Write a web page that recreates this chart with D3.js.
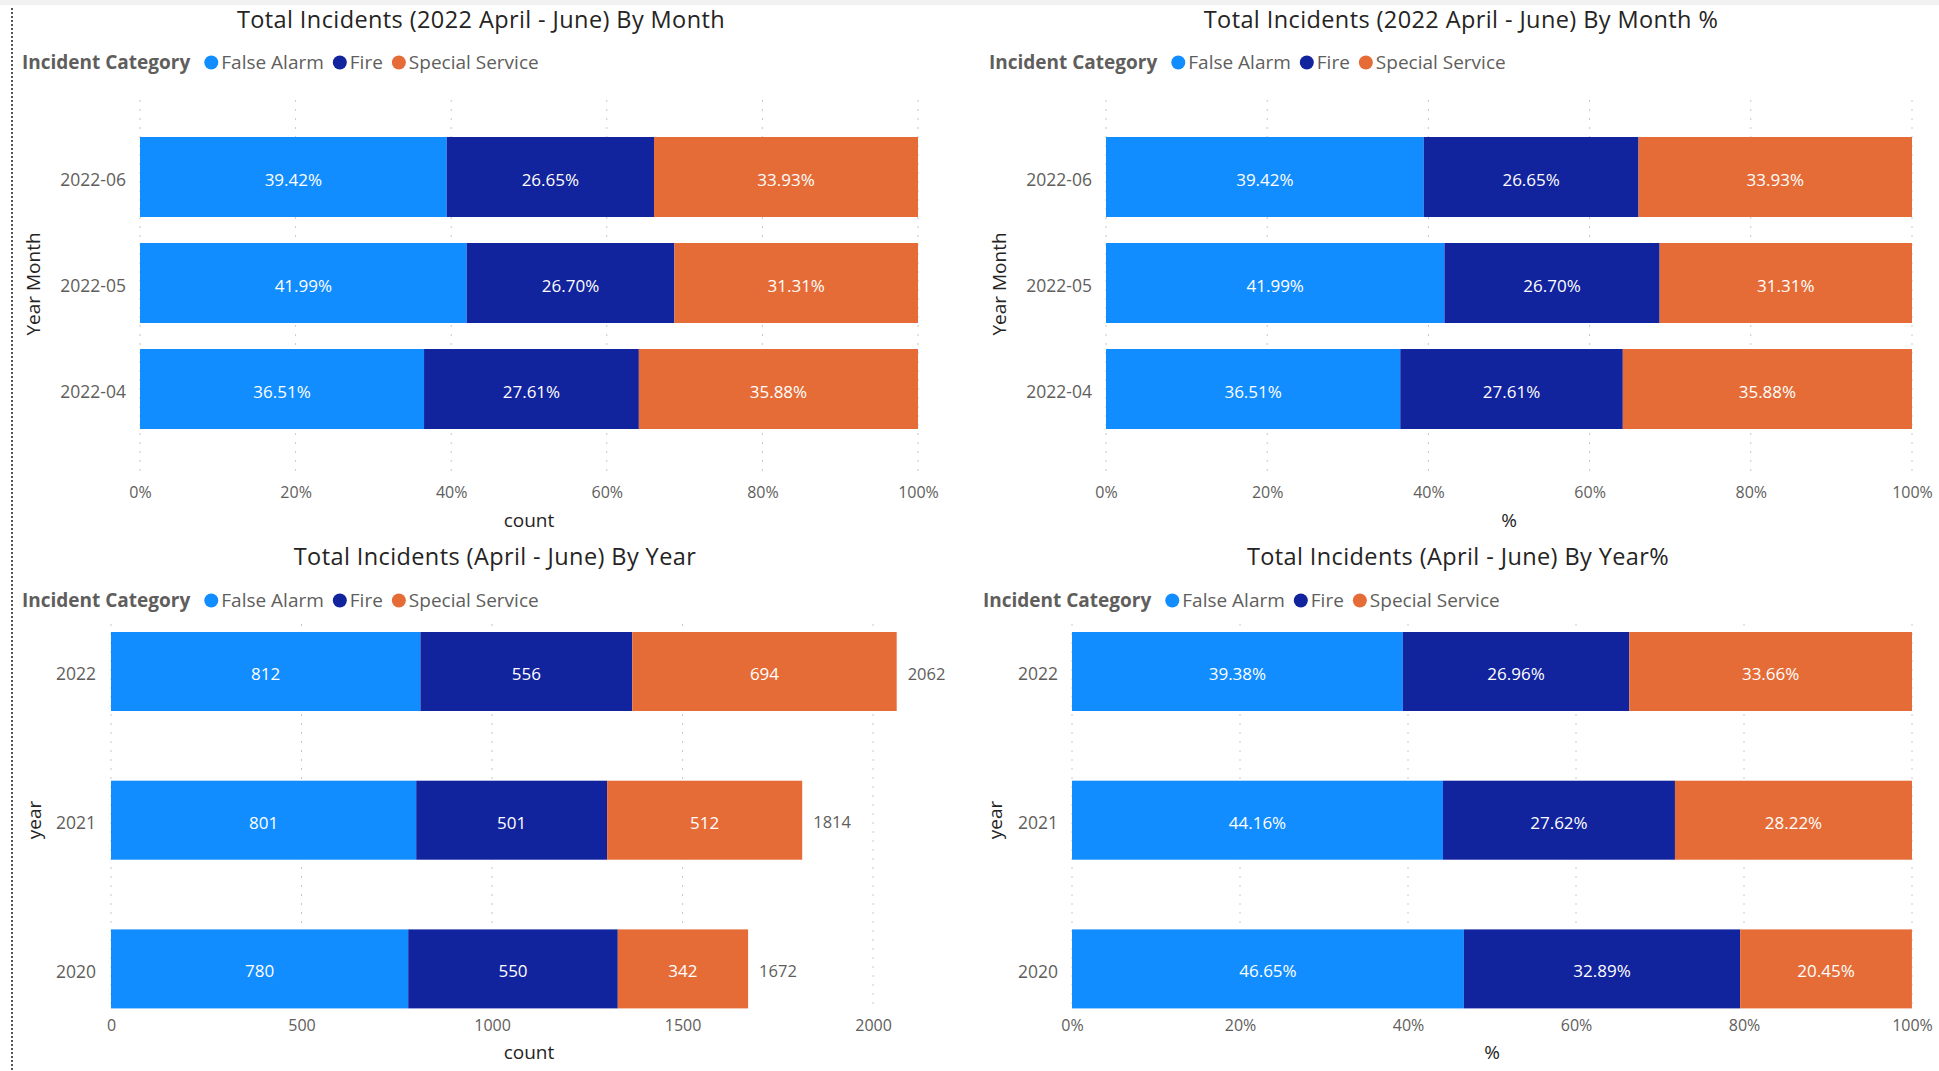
<!DOCTYPE html>
<html><head><meta charset="utf-8">
<script src="https://cdn.jsdelivr.net/npm/d3@7"></script>
<style>
html,body{margin:0;padding:0;background:#fff;}
svg{display:block;}
text{font-family:"Open Sans","Noto Sans",sans-serif;}
</style></head><body>
<svg id="chart" width="1939" height="1071"></svg>
<script>
// ---------- data ----------
const categories = ['False Alarm', 'Fire', 'Special Service'];
const colors = ['#118DFF', '#12239E', '#E66C37'];

const monthCats = ['2022-06', '2022-05', '2022-04'];
const monthFalseAlarm = [39.42, 41.99, 36.51];
const monthFire = [26.65, 26.70, 27.61];
const monthSpecial = [33.93, 31.31, 35.88];

const yearCats = ['2022', '2021', '2020'];
const yearFalseAlarm = [812, 801, 780];
const yearFire = [556, 501, 550];
const yearSpecial = [694, 512, 342];
const yearTotals = [2062, 1814, 1672];

const yearPctFalseAlarm = [39.38, 44.16, 46.65];
const yearPctFire = [26.96, 27.62, 32.89];
const yearPctSpecial = [33.66, 28.22, 20.45];

const pctTicks = [0, 20, 40, 60, 80, 100];
const pctTickLabels = ['0%', '20%', '40%', '60%', '80%', '100%'];
const countTicks = [0, 500, 1000, 1500, 2000];
const countTickLabels = ['0', '500', '1000', '1500', '2000'];

// ---------- drawing ----------
const svg = d3.select('#chart');
const TITLE_FONT = '"Open Sans", Roboto, sans-serif';

// top shadow band and left dotted border
svg.append('rect').attr('x', 0).attr('y', 0).attr('width', 1939).attr('height', 5).attr('fill', '#f1f1f1');
svg.append('line').attr('x1', 12).attr('x2', 12).attr('y1', 8).attr('y2', 1071)
  .attr('stroke', '#555').attr('stroke-width', 2).attr('stroke-dasharray', '2,2');

function rows(cats, a, b, c) {
  return cats.map((k, i) => ({cat: k, 'False Alarm': a[i], 'Fire': b[i], 'Special Service': c[i]}));
}

function drawChart(cfg) {
  const g = svg.append('g');
  // title
  g.append('text').attr('x', cfg.titleX).attr('y', cfg.titleY).attr('text-anchor', 'middle')
    .style('font-family', TITLE_FONT).style('font-size', '23.5px').style('letter-spacing', '0.4px')
    .attr('fill', '#252423').text(cfg.title);

  // legend
  let lx = cfg.legendX;
  const lt = g.append('text').attr('x', lx).attr('y', cfg.legendY)
    .style('font-family', TITLE_FONT).style('font-size', '19px').style('font-weight', 'bold')
    .attr('fill', '#605E5C').text('Incident Category');
  lx += lt.node().getComputedTextLength() + 14;
  categories.forEach((name, i) => {
    g.append('circle').attr('cx', lx + 7).attr('cy', cfg.legendY - 6.5).attr('r', 7).attr('fill', colors[i]);
    lx += 17;
    const t = g.append('text').attr('x', lx).attr('y', cfg.legendY)
      .style('font-family', TITLE_FONT).style('font-size', '19px').attr('fill', '#605E5C').text(name);
    lx += t.node().getComputedTextLength() + 9;
  });

  const x = d3.scaleLinear().domain(cfg.domain).range([cfg.x0, cfg.x1]);
  const pi = 1 - cfg.band / cfg.step;
  const r0 = cfg.bandTop - cfg.step * pi / 2;
  const y = d3.scaleBand().domain(cfg.cats).range([r0, r0 + 3 * cfg.step]).paddingInner(pi).paddingOuter(pi / 2);

  // grid
  g.append('g').selectAll('line').data(cfg.ticks).join('line')
    .attr('x1', d => x(d)).attr('x2', d => x(d)).attr('y1', cfg.gridTop).attr('y2', cfg.gridBottom)
    .attr('stroke', '#c8c8c8').attr('stroke-width', 1).attr('stroke-dasharray', '2,7');

  // x axis
  const xAxis = d3.axisBottom(x).tickValues(cfg.ticks).tickSize(0).tickPadding(0)
    .tickFormat((d, i) => cfg.tickLabels[i]);
  const ax = g.append('g').attr('transform', `translate(0,${cfg.tickY})`).call(xAxis);
  ax.select('.domain').remove();
  ax.selectAll('text').attr('y', 0).attr('dy', 0).attr('fill', '#605E5C')
    .style('font-size', '16px').style('font-family', '"Open Sans", sans-serif');
  g.append('text').attr('x', (cfg.x0 + cfg.x1) / 2).attr('y', cfg.axisTitleY).attr('text-anchor', 'middle')
    .style('font-family', TITLE_FONT).style('font-size', '19px').attr('fill', '#252423').text(cfg.axisTitle);

  // y axis
  const yAxis = d3.axisLeft(y).tickSize(0).tickPadding(0);
  const ay = g.append('g').attr('transform', `translate(${cfg.catLabelX},0)`).call(yAxis);
  ay.select('.domain').remove();
  ay.selectAll('text').attr('x', 0).attr('dy', '0.5em').attr('fill', '#605E5C')
    .style('font-size', '17.5px').style('font-family', '"Open Sans", sans-serif');
  g.append('text').attr('transform', `translate(${cfg.yTitleX},${cfg.yTitleY}) rotate(-90)`)
    .attr('text-anchor', 'middle').attr('dy', '0.35em')
    .style('font-family', '"Open Sans", sans-serif').style('font-size', '19px').attr('fill', '#252423').text(cfg.yTitle);

  // stacked bars
  const stacked = d3.stack().keys(categories)(cfg.data);
  stacked.forEach((s, si) => {
    const sg = g.append('g');
    sg.selectAll('rect').data(s).join('rect')
      .attr('x', d => x(d[0])).attr('width', d => x(d[1]) - x(d[0]))
      .attr('y', d => y(d.data.cat)).attr('height', y.bandwidth())
      .attr('fill', colors[si]);
    sg.selectAll('text').data(s).join('text')
      .attr('x', d => (x(d[0]) + x(d[1])) / 2).attr('y', d => y(d.data.cat) + y.bandwidth() / 2)
      .attr('dy', '0.5em').attr('text-anchor', 'middle').attr('fill', '#ffffff')
      .style('font-size', '17px')
      .text(d => cfg.labelFormat(d.data[categories[si]]));
  });

  if (cfg.totals) {
    g.append('g').selectAll('text').data(cfg.cats).join('text')
      .attr('x', (d, i) => x(cfg.totals[i]) + 11).attr('y', d => y(d) + y.bandwidth() / 2)
      .attr('dy', '0.5em').attr('fill', '#605E5C').style('font-size', '16.5px')
      .text((d, i) => cfg.totals[i]);
  }
}

const pctFmt = v => v.toFixed(2) + '%';
const cntFmt = v => String(v);

drawChart({
  title: 'Total Incidents (2022 April - June) By Month', titleX: 481, titleY: 28,
  legendX: 22, legendY: 69,
  cats: monthCats, data: rows(monthCats, monthFalseAlarm, monthFire, monthSpecial),
  domain: [0, 100], x0: 140, x1: 918, ticks: pctTicks, tickLabels: pctTickLabels,
  bandTop: 137, step: 106, band: 80, gridTop: 100, gridBottom: 472,
  tickY: 498, axisTitle: 'count', axisTitleY: 527,
  catLabelX: 126, yTitle: 'Year Month', yTitleX: 33, yTitleY: 284,
  labelFormat: pctFmt
});
drawChart({
  title: 'Total Incidents (2022 April - June) By Month %', titleX: 1461, titleY: 28,
  legendX: 989, legendY: 69,
  cats: monthCats, data: rows(monthCats, monthFalseAlarm, monthFire, monthSpecial),
  domain: [0, 100], x0: 1106, x1: 1912, ticks: pctTicks, tickLabels: pctTickLabels,
  bandTop: 137, step: 106, band: 80, gridTop: 100, gridBottom: 472,
  tickY: 498, axisTitle: '%', axisTitleY: 527,
  catLabelX: 1092, yTitle: 'Year Month', yTitleX: 999, yTitleY: 284,
  labelFormat: pctFmt
});
drawChart({
  title: 'Total Incidents (April - June) By Year', titleX: 495, titleY: 565,
  legendX: 22, legendY: 607,
  cats: yearCats, data: rows(yearCats, yearFalseAlarm, yearFire, yearSpecial),
  domain: [0, 2194], x0: 111, x1: 947, ticks: countTicks, tickLabels: countTickLabels,
  bandTop: 632, step: 148.7, band: 79, gridTop: 624, gridBottom: 1010,
  tickY: 1031, axisTitle: 'count', axisTitleY: 1059,
  catLabelX: 96, yTitle: 'year', yTitleX: 34, yTitleY: 820,
  labelFormat: cntFmt, totals: yearTotals
});
drawChart({
  title: 'Total Incidents (April - June) By Year%', titleX: 1458, titleY: 565,
  legendX: 983, legendY: 607,
  cats: yearCats, data: rows(yearCats, yearPctFalseAlarm, yearPctFire, yearPctSpecial),
  domain: [0, 100], x0: 1072, x1: 1912, ticks: pctTicks, tickLabels: pctTickLabels,
  bandTop: 632, step: 148.7, band: 79, gridTop: 624, gridBottom: 1010,
  tickY: 1031, axisTitle: '%', axisTitleY: 1059,
  catLabelX: 1058, yTitle: 'year', yTitleX: 995, yTitleY: 820,
  labelFormat: pctFmt
});
</script>
</body></html>
